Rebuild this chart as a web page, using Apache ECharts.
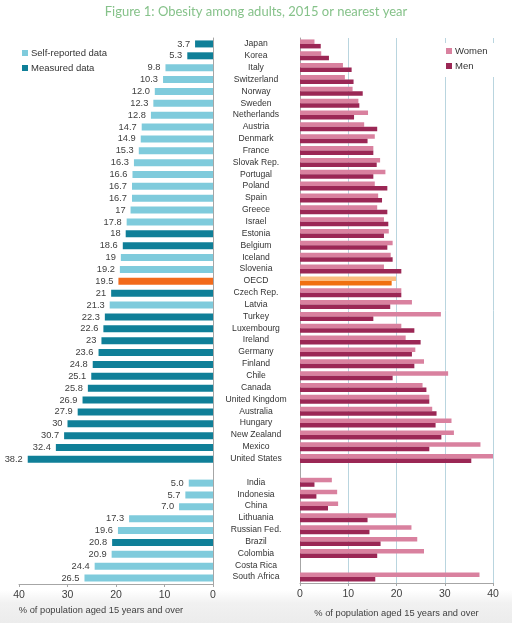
<!DOCTYPE html>
<html><head><meta charset="utf-8">
<script src="https://cdn.jsdelivr.net/npm/echarts@6/dist/echarts.min.js"></script>
<style>html,body{margin:0;padding:0;background:#fff}#c{width:512px;height:623px}</style>
</head><body><div id="c"></div>
<script>
const categories = ['Japan','Korea','Italy','Switzerland','Norway','Sweden','Netherlands','Austria','Denmark','France','Slovak Rep.','Portugal','Poland','Spain','Greece','Israel','Estonia','Belgium','Iceland','Slovenia','OECD','Czech Rep.','Latvia','Turkey','Luxembourg','Ireland','Germany','Finland','Chile','Canada','United Kingdom','Australia','Hungary','New Zealand','Mexico','United States','','India','Indonesia','China','Lithuania','Russian Fed.','Brazil','Colombia','Costa Rica','South Africa'];
const totalLabels = ['3.7','5.3','9.8','10.3','12.0','12.3','12.8','14.7','14.9','15.3','16.3','16.6','16.7','16.7','17','17.8','18','18.6','19','19.2','19.5','21','21.3','22.3','22.6','23','23.6','24.8','25.1','25.8','26.9','27.9','30','30.7','32.4','38.2',null,'5.0','5.7','7.0','17.3','19.6','20.8','20.9','24.4','26.5'];
// data type: S = self-reported, M = measured, O = OECD average
const dataType = ['M','M','S','S','S','S','S','S','S','S','S','S','S','S','S','S','M','M','S','S','O','M','S','M','M','M','M','M','M','M','M','M','M','M','M','M',null,'S','S','S','S','S','M','S','S','S'];
const women = [3.0,4.4,8.9,9.3,10.9,12.1,14.1,13.3,15.5,15.2,16.6,17.7,15.5,16.2,16.0,17.4,18.4,19.2,18.8,17.4,19.9,21.0,23.2,29.2,21.0,21.9,23.9,25.7,30.7,25.4,26.8,27.4,31.4,31.9,37.4,40.2,null,6.6,7.7,7.9,19.9,23.1,24.3,25.7,null,37.2];
const men = [4.3,6.0,10.7,11.1,13.0,12.3,11.2,16.0,14.0,15.2,15.9,15.2,18.1,17.0,18.1,18.3,17.4,18.1,19.2,21.0,19.0,21.0,18.7,15.2,23.7,25.0,23.2,23.7,19.2,26.2,26.8,28.3,28.1,29.3,26.8,35.5,null,3.0,3.4,5.8,14.0,14.4,16.7,16.0,null,15.6];
const xTicks = [0,10,20,30,40];

const C_SELF='#7fcbdc', C_MEAS='#0f7f98', C_OECD='#f26a1b';
const C_W='#d9819f', C_M='#9b2755', C_OW='#fbbd7f', C_OM='#f0700f';
const FONT='Liberation Sans';

function pick(t){return totalLabels.map((v,i)=>dataType[i]===t?parseFloat(v):null);}
const labelFmt = p => totalLabels[p.dataIndex];
const leftLabel = {show:true, position:'left', distance:5, color:'#404040', fontSize:9.3, fontFamily:FONT, formatter:labelFmt};

const chart = echarts.init(document.getElementById('c'), null, {renderer:'canvas'});
const catAxisBase = {type:'category', data:categories, inverse:true, axisLine:{lineStyle:{color:'#a6a6a6'}}, axisTick:{length:3, lineStyle:{color:'#a6a6a6'}}, splitLine:{show:false}};
const nameStyle = {color:'#404040', fontSize:9.3, fontFamily:FONT};
const valAxisBase = {type:'value', min:0, max:40, interval:10, axisLine:{show:true, lineStyle:{color:'#a6a6a6'}}, axisTick:{show:true, length:3, lineStyle:{color:'#a6a6a6'}}, axisLabel:{color:'#404040', fontSize:10.5, fontFamily:FONT, margin:6}, nameLocation:'middle', nameTextStyle:nameStyle};

chart.setOption({
  animation:false,
  backgroundColor:'#fff',
  graphic:[{type:'rect', z:-10, shape:{x:0,y:590,width:512,height:33}, style:{fill:new echarts.graphic.LinearGradient(0,0,0,1,[{offset:0,color:'#ffffff'},{offset:0.4,color:'#f1f1f1'},{offset:1,color:'#ececec'}])}}],
  title:{text:'Figure 1: Obesity among adults, 2015 or nearest year', left:'center', top:0, textStyle:{color:'#86c28a', fontSize:13, fontWeight:'normal', fontFamily:'Lato'}},
  legend:[
    {data:['Self-reported data','Measured data'], orient:'vertical', left:17, top:43, itemWidth:6, itemHeight:6, itemGap:5, icon:'rect', textStyle:{color:'#333', fontSize:9.5, fontFamily:FONT, padding:[0,0,0,-2]}},
    {data:['Women','Men'], orient:'vertical', left:443, top:43, itemWidth:6, itemHeight:6, itemGap:5, icon:'rect', backgroundColor:'#fff', padding:[3,8,6,3], textStyle:{color:'#333', fontSize:9.5, fontFamily:FONT, padding:[0,0,0,-2]}}
  ],
  grid:[
    {left:19, width:194, top:38, height:546},
    {left:300, width:193, top:38, height:546}
  ],
  xAxis:[
    Object.assign({}, valAxisBase, {gridIndex:0, inverse:true, splitLine:{show:false}, name:'% of population aged 15 years and over', nameGap:19, nameTextStyle:Object.assign({}, nameStyle, {padding:[0,30,0,0]})}),
    Object.assign({}, valAxisBase, {gridIndex:1, splitLine:{show:true, lineStyle:{color:'#b9d5df', width:1}}, name:'% of population aged 15 years and over', nameGap:26})
  ],
  yAxis:[
    Object.assign({}, catAxisBase, {gridIndex:0, position:'right', axisLabel:{show:false}}),
    Object.assign({}, catAxisBase, {gridIndex:1, position:'left', axisLabel:{show:true, align:'center', margin:44, color:'#333', fontSize:8.6, fontFamily:FONT, interval:0}})
  ],
  series:[
    {name:'Self-reported data', type:'bar', xAxisIndex:0, yAxisIndex:0, stack:'l', data:pick('S'), itemStyle:{color:C_SELF}, barWidth:7, label:leftLabel},
    {name:'Measured data', type:'bar', xAxisIndex:0, yAxisIndex:0, stack:'l', data:pick('M'), itemStyle:{color:C_MEAS}, barWidth:7, label:leftLabel},
    {name:'OECD', type:'bar', xAxisIndex:0, yAxisIndex:0, stack:'l', data:pick('O'), itemStyle:{color:C_OECD}, barWidth:7, label:leftLabel},
    {name:'Women', type:'bar', xAxisIndex:1, yAxisIndex:1, barWidth:4.5, barGap:'0%', itemStyle:{color:C_W},
      data:women.map((v,i)=>dataType[i]==='O'?{value:v,itemStyle:{color:C_OW}}:v)},
    {name:'Men', type:'bar', xAxisIndex:1, yAxisIndex:1, barWidth:4.5, barGap:'0%', itemStyle:{color:C_M},
      data:men.map((v,i)=>dataType[i]==='O'?{value:v,itemStyle:{color:C_OM}}:v)}
  ]
});
</script></body></html>
